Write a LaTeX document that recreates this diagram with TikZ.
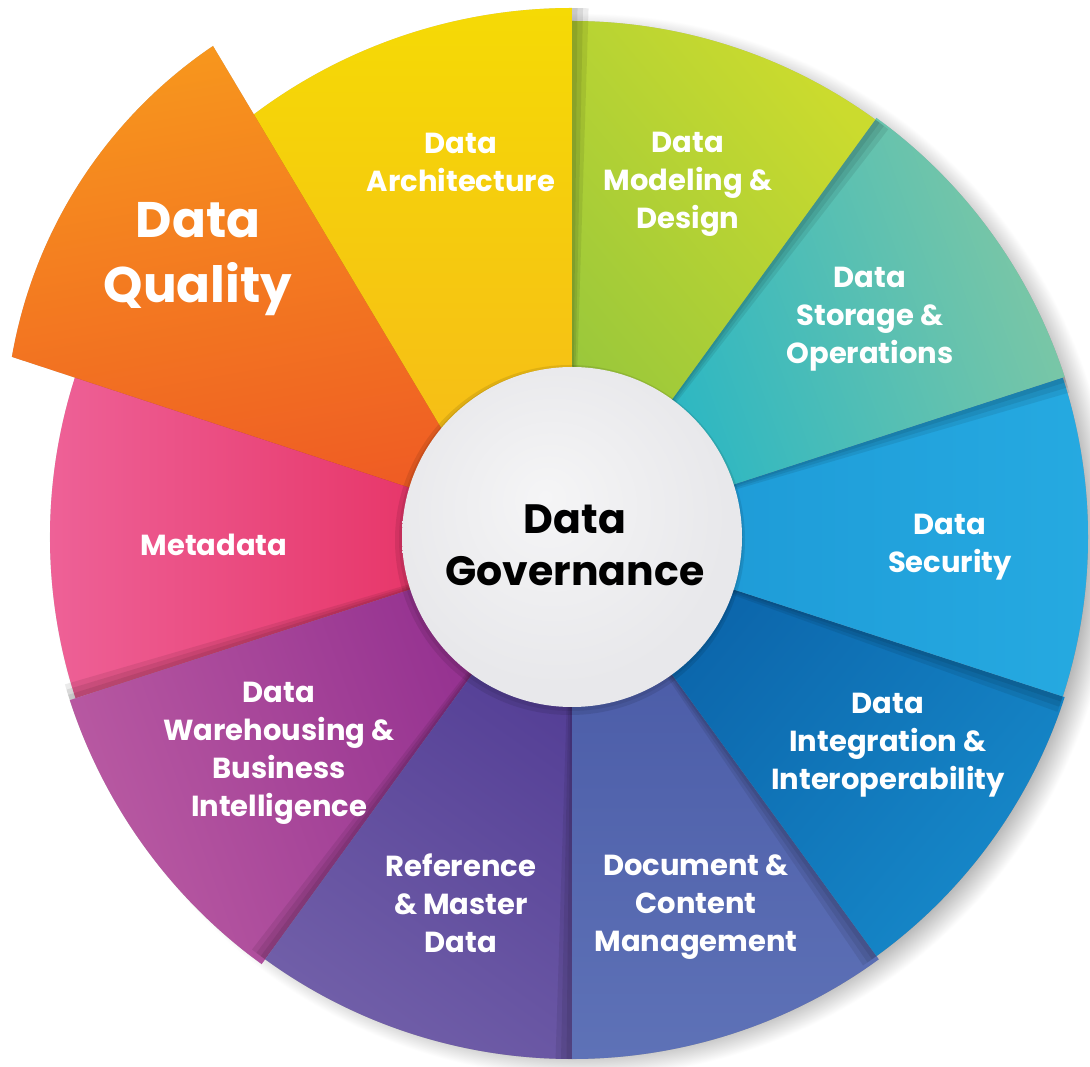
\documentclass[tikz,border=0pt]{standalone}
\usepackage{fontspec}
\newfontfamily\lbl{Poppins}
\usetikzlibrary{calc}
\definecolor{coreA}{RGB}{245,245,246}
\definecolor{coreB}{RGB}{232,232,235}
\definecolor{metaO}{RGB}{238,98,152}   \definecolor{metaI}{RGB}{228,36,86}
\definecolor{whO}{RGB}{185,90,162}     \definecolor{whI}{RGB}{142,42,141}
\definecolor{refO}{RGB}{112,94,168}    \definecolor{refI}{RGB}{80,58,147}
\definecolor{docO}{RGB}{94,114,183}    \definecolor{docI}{RGB}{70,86,163}
\definecolor{intO}{RGB}{22,136,201}    \definecolor{intI}{RGB}{10,96,166}
\definecolor{secO}{RGB}{38,170,225}    \definecolor{secI}{RGB}{27,150,212}
\definecolor{stoO}{RGB}{125,199,165}   \definecolor{stoI}{RGB}{30,180,200}
\definecolor{modO}{RGB}{203,219,46}    \definecolor{modI}{RGB}{150,198,60}
\definecolor{arcO}{RGB}{245,218,5}     \definecolor{arcI}{RGB}{246,183,27}
\definecolor{quaO}{RGB}{247,150,29}    \definecolor{quaI}{RGB}{239,91,36}
\pgfdeclareradialshading{dgshadow}{\pgfpoint{0bp}{0bp}}{color(0bp)=(black!30); color(23.6bp)=(black!30); color(25bp)=(white); color(50bp)=(white)}
\pgfdeclareradialshading{dgcore}{\pgfpoint{-4bp}{6bp}}{color(0bp)=(coreA); color(25bp)=(coreB); color(50bp)=(coreB)}
\newcommand\dgsector[6]{%
  \foreach \k in {0.6,1.2,1.8}{%
    \fill[black, opacity=0.08, rotate around={-\k:(C)}] (C) -- ++(#1:#3) arc[start angle=#1, end angle=#2, radius=#3] -- cycle;
  }%
  \shade[top color=#4, bottom color=#5, shading angle=#6] (C) -- ++(#1:#3) arc[start angle=#1, end angle=#2, radius=#3] -- cycle;
}
\tikzset{
  lab/.style={text=white, align=center, inner sep=0pt, font=\lbl\bfseries\fontsize{29}{38}\selectfont},
  biglab/.style={text=white, align=center, inner sep=0pt, font=\lbl\bfseries\fontsize{50}{65}\selectfont},
  govlab/.style={text=black, align=center, inner sep=0pt, font=\lbl\bfseries\fontsize{41}{52}\selectfont}
}
\begin{document}
\begin{tikzpicture}[x=1pt,y=1pt]
\useasboundingbox (0,0) rectangle (1090,1066);
\fill[white] (0,0) rectangle (1090,1066);
\coordinate (C) at (572,529);
% overall soft shadow of the wheel
\shade[shading=dgshadow] ($(C)+(10,-8)$) circle[radius=532];
% sectors, bottom to top
\dgsector{162}{198}{522}{metaO}{metaI}{90}
\dgsector{198}{234}{528}{whO}{whI}{110}
\dgsector{234}{270}{522}{refO}{refI}{145}
\dgsector{270}{306}{522}{docO}{docI}{180}
\dgsector{306}{342}{518}{intO}{intI}{230}
\dgsector{-18}{18}{516}{secO}{secI}{-90}
\dgsector{18}{54}{518}{stoO}{stoI}{-70}
\dgsector{54}{90}{516}{modO}{modI}{-50}
\dgsector{90}{140}{529}{arcO}{arcI}{0}
% Data Quality, pulled out
\coordinate (QA) at (493,551);
\coordinate (Q1) at (213,1020);
\foreach \k in {1,2,3}{%
  \fill[black, opacity=0.09, xshift=4*\k, yshift=-1*\k] (QA) -- (Q1) arc[start angle=124.06, end angle=170.14, radius=473] -- cycle;
}
\shade[top color=quaO, bottom color=quaI, shading angle=10] (QA) -- (Q1) arc[start angle=124.06, end angle=170.14, radius=473] -- cycle;
% centre
\fill[black, opacity=0.09] ($(C)+(-2,-3)$) circle[radius=175];
\fill[black, opacity=0.07] ($(C)+(-1,-2)$) circle[radius=172];
\node[circle, minimum size=340pt, inner sep=0pt, shading=dgcore] (core) at (C) {};
% labels
\node[govlab] (gov) at (575,521) {Data\\Governance};
\node[lab] (arch) at (461,904) {Data\\Architecture};
\node[lab] (model) at (688,881.5) {Data\\Modeling \&\\Design};
\node[lab] (stor) at (870,747) {Data\\Storage \&\\Operations};
\node[lab] (sec) at (950,518.5) {Data\\Security};
\node[lab] (integ) at (888,321) {Data\\Integration \&\\Interoperability};
\node[lab] (doc) at (696,159) {Document \&\\Content\\Management};
\node[lab] (ref) at (461,163) {Reference\\\& Master\\Data};
\node[lab] (wh) at (279,312.5) {Data\\Warehousing \&\\Business\\Intelligence};
\node[lab] (meta) at (214,521) {Metadata};
\node[biglab] (qual) at (198,807) {Data\\Quality};
\end{tikzpicture}
\end{document}
